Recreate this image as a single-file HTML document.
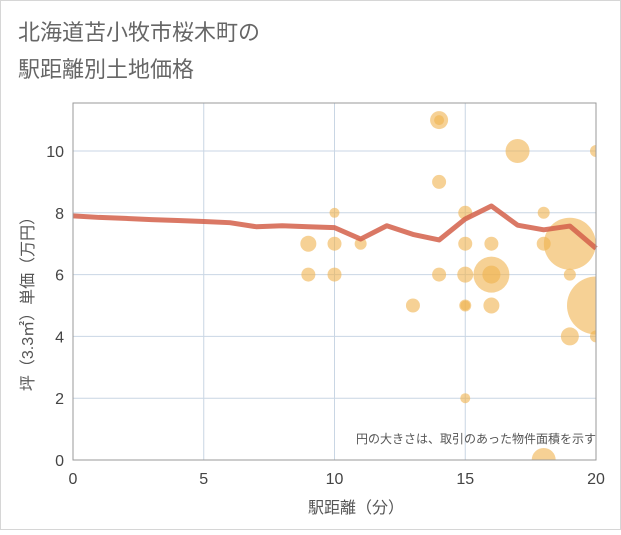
<!DOCTYPE html>
<html><head><meta charset="utf-8"><style>
body{margin:0;background:#fff;}
svg text{font-family:"Liberation Sans","Noto Sans CJK JP",sans-serif;}
</style></head><body>
<svg width="621" height="530" viewBox="0 0 621 530">
<rect x="0.5" y="0.5" width="620" height="529" fill="#fff" stroke="#d6d6d6"/>
<text x="18" y="40" font-size="22" fill="#666">北海道苫小牧市桜木町の</text>
<text x="18" y="77" font-size="22" fill="#666">駅距離別土地価格</text>
<defs><clipPath id="pc"><rect x="73" y="103" width="523" height="357"/></clipPath></defs>
<g id="grid"></g>
<g id="bubbles" clip-path="url(#pc)"></g>
<g id="line"></g>
<rect x="73" y="103" width="523" height="357" fill="none" stroke="#999" stroke-width="1"/>
<g id="ticks"></g>
<text x="596" y="443" font-size="12" fill="#555" text-anchor="end">円の大きさは、取引のあった物件面積を示す</text>
<text x="356" y="513" font-size="16" fill="#555" text-anchor="middle">駅距離（分）</text>
<text transform="translate(33,300) rotate(-90)" font-size="16" fill="#555" text-anchor="middle">坪（3.3㎡）単価（万円）</text>
</svg>
<script>
const xTicks=[0,5,10,15,20];
const yTicks=[0,2,4,6,8,10];
const bx=[14,14,17,20,14,10,15,18,9,10,11,15,16,18,19,9,10,14,15,16,16,19,13,15,15,16,20,19,20,15,18];
const by=[11,11,10,10,9,8,8,8,7,7,7,7,7,7,7,6,6,6,6,6,6,6,5,5,5,5,5,4,4,2,0];
const br=[9,5,12,6,7,5,7,6,8,7,6,7,7,7,26,7,7,7,8,18,9,6,7,6,5,8,29,9,6,5,12];
const lx=[0,1,2,3,4,5,6,7,8,9,10,11,12,13,14,15,16,17,18,19,20];
const ly=[7.9,7.85,7.82,7.78,7.75,7.72,7.68,7.55,7.58,7.55,7.52,7.15,7.58,7.3,7.12,7.8,8.22,7.6,7.45,7.57,6.85];
const X=v=>73+v*(523/20), Y=v=>460-v*30.9;
const NS="http://www.w3.org/2000/svg";
function mk(t,a,p){const e=document.createElementNS(NS,t);for(const k in a)e.setAttribute(k,a[k]);p.appendChild(e);return e;}
const g=document.getElementById('grid'),tk=document.getElementById('ticks');
xTicks.forEach(v=>{const l=mk('line',{x1:X(v),x2:X(v),y1:103,y2:460,stroke:'#c9d6e4'},g);


const t=mk('text',{x:X(v),y:484,'font-size':16,fill:'#444','text-anchor':'middle'},tk);t.textContent=v;

});
yTicks.forEach(v=>{const l=mk('line',{x1:73,x2:596,y1:Y(v),y2:Y(v),stroke:'#c9d6e4'},g);


const t=mk('text',{x:64,y:Y(v)+6,'font-size':16,fill:'#444','text-anchor':'end'},tk);t.textContent=v;

});
const bg=document.getElementById('bubbles');
bx.forEach((v,i)=>{const c=mk('circle',{cx:X(v),cy:Y(by[i]),r:br[i],fill:'#f0b24f','fill-opacity':0.6},bg);

});
const p=mk('polyline',{points:lx.map((v,i)=>X(v)+','+Y(ly[i])).join(' '),fill:'none',stroke:'#d4604a','stroke-opacity':0.85,'stroke-width':5,'stroke-linejoin':'round'},document.getElementById('line'));


</script>
</body></html>
